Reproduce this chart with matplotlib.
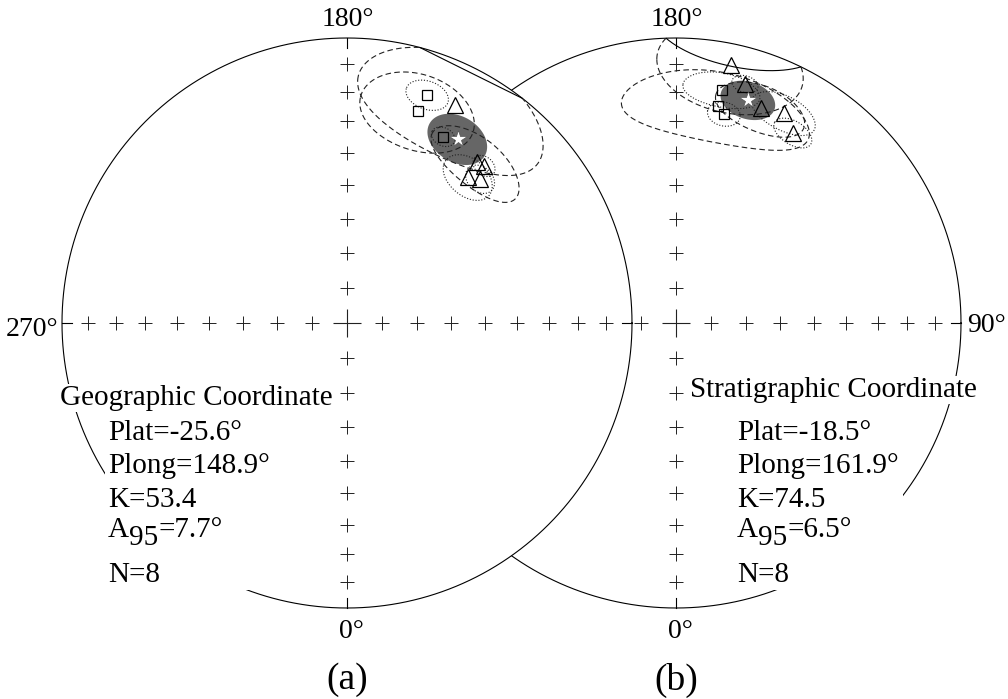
import numpy as np
import matplotlib
matplotlib.use("Agg")
import matplotlib.pyplot as plt
from matplotlib.patches import Polygon, Rectangle, Circle
from matplotlib.transforms import offset_copy

plt.rcParams["font.family"] = ["Liberation Serif", "DejaVu Serif"]

# ---- data (declination / inclination, deg) ----
geo_kind = ["s", "s", "s", "^", "^", "^", "^", "^"]
geo_dec = [160.6, 161.5, 152.7, 153.6, 141.1, 138.9, 140.3, 137.2]
geo_inc = [16.3, 22.6, 27.3, 15.7, 28.2, 27.7, 33.9, 31.8]
geo_semi_dec = [5, 14, 3, 23, 13, 3, 7, 4]      # cone semi-axis along declination
geo_semi_inc = [5, 13, 3, 18, 8, 3, 6, 4]       # cone semi-axis along inclination
geo_style = ["dotted", "dashed", "dotted", "dashed", "dashed", "dotted", "dotted", "dotted"]
geo_mean_dec, geo_mean_inc = 149.0, 25.6
geo_plat, geo_plong, geo_k, geo_a95, geo_n = -25.6, 148.9, 53.4, 7.7, 8

str_kind = ["^", "^", "s", "s", "s", "^", "^", "^"]
str_dec = [168.0, 163.9, 168.9, 169.1, 167.1, 158.4, 152.8, 148.4]
str_inc = [8.3, 13.8, 17.7, 23.5, 25.7, 20.1, 18.2, 22.7]
str_semi_dec = [16, 3, 9, 23, 4, 11, 8, 5]
str_semi_inc = [17, 3, 6, 12, 4, 8, 6, 4]
str_style = ["dashed", "dotted", "dotted", "dashed", "dotted", "dashed", "dotted", "dotted"]
str_mean_dec, str_mean_inc = 162.1, 18.9
str_plat, str_plong, str_k, str_a95, str_n = -18.5, 161.9, 74.5, 6.5, 8

grid_inc = [80, 70, 60, 50, 40, 30, 20, 10]
axis_dec = [0, 90, 180, 270]

# ---- layout (pixels of the 1008x699 picture) ----
PX_R, CX, CY = 285.0, 347.0, 323.0


def px(x, y):
    return (x - CX) / PX_R, (CY - y) / PX_R


GEO_X0 = 0.0
STR_X0 = (676.0 - CX) / PX_R
DASHES = {"dashed": (0, (5, 3)), "dotted": (0, (1.0, 1.6))}


def project(dec, inc, x0):
    d = np.radians(dec)
    r = np.sqrt(2) * np.sin(np.radians(90 - np.abs(inc)) / 2)
    return x0 + r * np.sin(d), -r * np.cos(d)


def cone(dec, inc, a_dec, a_inc, n=721):
    d, i = np.radians(dec), np.radians(inc)
    v = np.array([np.cos(i) * np.cos(d), np.cos(i) * np.sin(d), np.sin(i)])
    e_d = np.array([-np.sin(d), np.cos(d), 0.0])
    e_i = np.array([-np.sin(i) * np.cos(d), -np.sin(i) * np.sin(d), np.cos(i)])
    phi = np.linspace(0, 2 * np.pi, n)
    a, b = np.radians(a_dec), np.radians(a_inc)
    rho = a * b / np.sqrt((b * np.cos(phi)) ** 2 + (a * np.sin(phi)) ** 2)
    t = np.outer(np.cos(phi), e_d) + np.outer(np.sin(phi), e_i)
    p = np.cos(rho)[:, None] * v + np.sin(rho)[:, None] * t
    dd = np.degrees(np.arctan2(p[:, 1], p[:, 0]))
    ii = np.degrees(np.arcsin(np.clip(p[:, 2], -1, 1)))
    return dd, ii


fig = plt.figure(figsize=(10.08, 6.99), dpi=100)
ax = fig.add_axes([0, 0, 1, 1])
ax.set_xlim(-CX / PX_R, (1008 - CX) / PX_R)
ax.set_ylim((CY - 699) / PX_R, CY / PX_R)
ax.axis("off")


def draw_net(x0, z):
    th = np.linspace(0, 2 * np.pi, 721)
    ax.plot(x0 + np.cos(th), np.sin(th), color="black", lw=0.8, zorder=z)
    for dec in axis_dec:
        xs, ys = project(np.full(len(grid_inc), dec), np.array(grid_inc), x0)
        ax.plot(xs, ys, ls="none", marker="+", ms=9.5, mew=0.7, color="#222222", zorder=z)
        tick = 10 / PX_R
        s, c = np.sin(np.radians(dec)), -np.cos(np.radians(dec))
        ax.plot([x0 + s, x0 + s * (1 - tick)], [c, c * (1 - tick)], color="black", lw=0.8, zorder=z)
    ax.plot([x0], [0], marker="+", ms=19.5, mew=0.8, color="#222222", zorder=z)


def draw_sites(x0, kind, dec, inc, sd, si, style, mdec, minc, a95):
    for k, d, i, a, b, st in zip(kind, dec, inc, sd, si, style):
        dd, ii = cone(d, i, a, b)
        xs, ys = project(dd, ii, x0)
        low = np.where(ii >= 0, 1.0, np.nan)
        up = np.where(ii < 0, 1.0, np.nan)
        ax.plot(xs * low, ys * low, color="#222222", lw=0.8, ls=DASHES[st], zorder=3)
        ax.plot(xs * up, ys * up, color="black", lw=0.8, zorder=3)
    dd, ii = cone(mdec, minc, a95, a95)
    xs, ys = project(dd, ii, x0)
    ax.add_patch(Polygon(np.column_stack([xs, ys]), closed=True,
                         facecolor="#666666", edgecolor="none", zorder=2.8))
    for k, d, i in zip(kind, dec, inc):
        x, y = project(d, i, x0)
        ax.plot([x], [y], marker=k, ms=7.5 if k == "s" else 11, mfc="none",
                mec="black", mew=0.9, zorder=4)
    x, y = project(mdec, minc, x0)
    ax.plot([x], [y], marker="*", ms=13, mfc="white", mec="#555555", mew=0.5, zorder=5)


# right net sits behind the left one, whose disc hides it
draw_net(STR_X0, 1)
ax.add_patch(Circle((GEO_X0, 0), 1.0, facecolor="white", edgecolor="none", zorder=1.5))
draw_net(GEO_X0, 2)
draw_sites(GEO_X0, geo_kind, geo_dec, geo_inc, geo_semi_dec, geo_semi_inc, geo_style,
           geo_mean_dec, geo_mean_inc, geo_a95)
draw_sites(STR_X0, str_kind, str_dec, str_inc, str_semi_dec, str_semi_inc, str_style,
           str_mean_dec, str_mean_inc, str_a95)

FS = 21
txt = dict(fontsize=FS, color="black")
for x0_px in (347, 676):
    ax.text(*px(x0_px + 1, 19), "180°", ha="center", va="center", fontsize=20)
    ax.text(*px(x0_px + 4, 632), "0°", ha="center", va="center", fontsize=20)
ax.text(*px(32, 330), "270°", ha="center", va="center", fontsize=20)
ax.text(*px(986, 326), "90°", ha="center", va="center", fontsize=20)
ax.text(*px(347, 680), "(a)", ha="center", va="center", fontsize=27)
ax.text(*px(676, 680), "(b)", ha="center", va="center", fontsize=27)

ax.text(*px(60, 405), "Geographic Coordinate", ha="left", va="baseline", zorder=6,
        bbox=dict(facecolor="white", edgecolor="none", pad=1), **txt)
ax.text(*px(690, 397), "Stratigraphic Coordinate", ha="left", va="baseline", zorder=6,
        bbox=dict(facecolor="white", edgecolor="none", pad=1), **txt)

renderer = fig.canvas.get_renderer()
baselines = [440, 473, 507, 537, 582]


def stat_block(x_px, plat, plong, k, a95, n):
    lines = [f"Plat={plat}°", f"Plong={plong}°", f"K={k}", ("A", "95", f"={a95}°"), f"N={n}"]
    items = []
    for yb, line in zip(baselines, lines):
        pos = px(x_px, yb)
        if isinstance(line, tuple):
            t0 = ax.text(*pos, line[0], ha="left", va="baseline", zorder=6, **txt)
            w0 = t0.get_window_extent(renderer).width
            t1 = ax.text(*pos, line[1], ha="left", va="baseline", zorder=6,
                         transform=offset_copy(ax.transData, fig=fig, x=w0, y=-8, units="dots"), **txt)
            w1 = t1.get_window_extent(renderer).width
            t2 = ax.text(*pos, line[2], ha="left", va="baseline", zorder=6,
                         transform=offset_copy(ax.transData, fig=fig, x=w0 + w1, y=0, units="dots"), **txt)
            items += [t0, t1, t2]
        else:
            items.append(ax.text(*pos, line, ha="left", va="baseline", zorder=6, **txt))
    bbs = [t.get_window_extent(renderer) for t in items]
    x_lo = min(b.x0 for b in bbs) - 3
    x_hi = max(b.x1 for b in bbs) + 4
    y_lo = min(b.y0 for b in bbs) - 2
    y_hi = max(b.y1 for b in bbs) + 2
    inv = ax.transData.inverted()
    (dx0, dy0), (dx1, dy1) = inv.transform([(x_lo, y_lo), (x_hi, y_hi)])
    ax.add_patch(Rectangle((dx0, dy0), dx1 - dx0, dy1 - dy0, facecolor="white",
                           edgecolor="none", zorder=5.5))


stat_block(108, geo_plat, geo_plong, geo_k, geo_a95, geo_n)
stat_block(737, str_plat, str_plong, str_k, str_a95, str_n)

fig.savefig("out.png", dpi=100)
